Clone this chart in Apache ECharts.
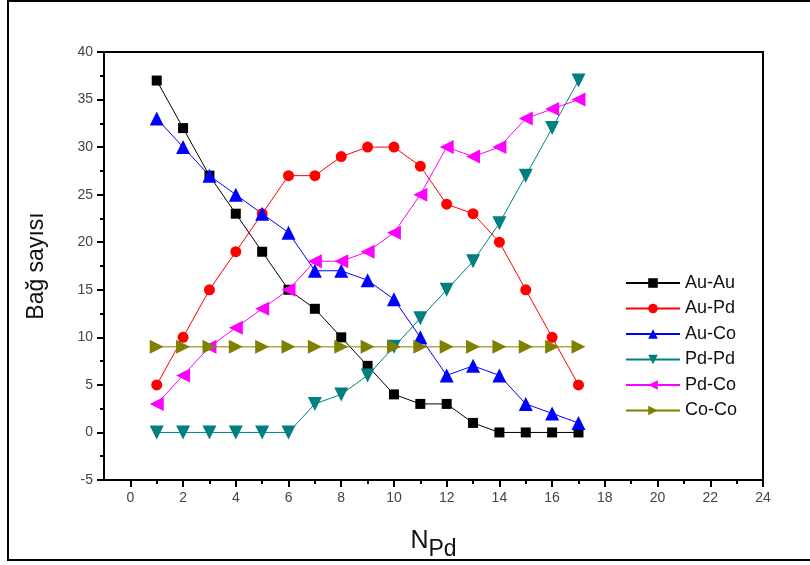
<!DOCTYPE html>
<html>
<head>
<meta charset="utf-8">
<script src="https://cdn.jsdelivr.net/npm/echarts@6/dist/echarts.min.js"></script>
<style>
  html, body { margin: 0; padding: 0; background: #fff; }
  #chart { width: 810px; height: 565px; }
</style>
</head>
<body>
<div id="chart"></div>
<script>
const nPd = [1, 2, 3, 4, 5, 6, 7, 8, 9, 10, 11, 12, 13, 14, 15, 16, 17];
const auAu = [37, 32, 27, 23, 19, 15, 13, 10, 7, 4, 3, 3, 1, 0, 0, 0, 0];
const auPd = [5, 10, 15, 19, 23, 27, 27, 29, 30, 30, 28, 24, 23, 20, 15, 10, 5];
const auCo = [33, 30, 27, 25, 23, 21, 17, 17, 16, 14, 10, 6, 7, 6, 3, 2, 1];
const pdPd = [0, 0, 0, 0, 0, 0, 3, 4, 6, 9, 12, 15, 18, 22, 27, 32, 37];
const pdCo = [3, 6, 9, 11, 13, 15, 18, 18, 19, 21, 25, 30, 29, 30, 33, 34, 35];
const coCo = [9, 9, 9, 9, 9, 9, 9, 9, 9, 9, 9, 9, 9, 9, 9, 9, 9];

const xMajor = [0, 2, 4, 6, 8, 10, 12, 14, 16, 18, 20, 22, 24];
const xMinor = [1, 3, 5, 7, 9, 11, 13, 15, 17, 19, 21, 23];

const pairs = arr => nPd.map((x, i) => [x, arr[i]]);

const chartDom = document.getElementById('chart');
const myChart = echarts.init(chartDom);

function line(name, data, color, symbol, size, rotate) {
  return {
    name: name,
    type: 'line',
    data: pairs(data),
    symbol: symbol,
    symbolSize: size,
    symbolRotate: rotate || 0,
    lineStyle: { color: color, width: 1 },
    itemStyle: { color: color },
    animation: false
  };
}

const option = {
  textStyle: { fontFamily: 'Liberation Sans, Arial, sans-serif' },
  graphic: [{
    type: 'rect',
    shape: { x: 8, y: 1, width: 820, height: 559 },
    style: { fill: 'none', stroke: '#000', lineWidth: 2 },
    z: -1
  }],
  grid: {
    left: 104, right: 47, top: 52, bottom: 85,
    outerBoundsMode: 'none',
    show: true, borderColor: '#000', borderWidth: 2
  },
  legend: {
    left: 620, top: 269, orient: 'vertical',
    itemWidth: 54, itemHeight: 12, itemGap: 7.5,
    textStyle: { fontSize: 18, color: '#111', lineHeight: 16 },
    data: ['Au-Au', 'Au-Pd', 'Au-Co', 'Pd-Pd', 'Pd-Co', 'Co-Co']
  },
  xAxis: [{
    type: 'value', min: -1, max: 24,
    name: '{n|N}{s|Pd}', nameLocation: 'middle', nameGap: 42,
    nameTextStyle: {
      rich: {
        n: { fontSize: 25, color: '#111' },
        s: { fontSize: 23, color: '#111', padding: [16, 0, 0, 0] }
      }
    },
    splitLine: { show: false },
    axisLine: { onZero: false, lineStyle: { color: '#000', width: 2 } },
    axisTick: { customValues: xMajor, length: 7, lineStyle: { color: '#000', width: 2 } },
    axisLabel: { customValues: xMajor, fontSize: 14, color: '#444', margin: 11 }
  }, {
    type: 'value', min: -1, max: 24, position: 'bottom',
    splitLine: { show: false },
    axisLine: { show: false, onZero: false },
    axisTick: { customValues: xMinor, length: 4, lineStyle: { color: '#000', width: 2 } },
    axisLabel: { show: false }
  }],
  yAxis: {
    type: 'value', min: -5, max: 40, interval: 5,
    name: 'Bağ sayısı', nameLocation: 'middle', nameGap: 56,
    nameTextStyle: { fontSize: 23, color: '#111' },
    splitLine: { show: false },
    axisLine: { onZero: false, lineStyle: { color: '#000', width: 2 } },
    axisTick: { length: 7, lineStyle: { color: '#000', width: 2 } },
    minorTick: { show: true, splitNumber: 2, length: 4, lineStyle: { color: '#000', width: 2 } },
    axisLabel: { fontSize: 14, color: '#444', margin: 11 }
  },
  series: [
    line('Au-Au', auAu, '#000000', 'rect', 10),
    line('Au-Pd', auPd, '#ff0000', 'circle', 11),
    line('Au-Co', auCo, '#0000ff', 'triangle', 14),
    line('Pd-Pd', pdPd, '#008080', 'triangle', 14, 180),
    line('Pd-Co', pdCo, '#ff00ff', 'triangle', 14, 90),
    line('Co-Co', coCo, '#808000', 'triangle', 14, -90)
  ]
};

option && myChart.setOption(option);
</script>
</body>
</html>
